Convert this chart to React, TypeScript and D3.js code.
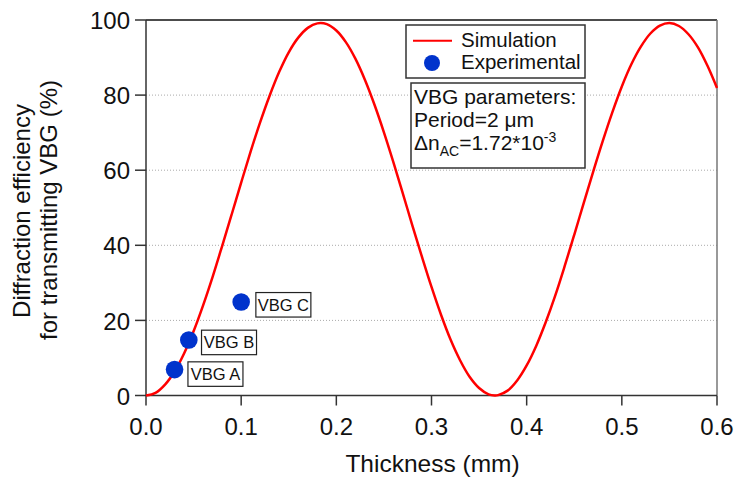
import React from "react";
import * as d3 from "d3";

const thickness = [0, 0.01, 0.02, 0.03, 0.04, 0.05, 0.06, 0.07, 0.08, 0.09, 0.1, 0.11, 0.12, 0.13, 0.14, 0.15, 0.16, 0.17, 0.18, 0.19, 0.2, 0.21, 0.22, 0.23, 0.24, 0.25, 0.26, 0.27, 0.28, 0.29, 0.3, 0.31, 0.32, 0.33, 0.34, 0.35, 0.36, 0.3665, 0.37, 0.38, 0.39, 0.4, 0.41, 0.42, 0.43, 0.44, 0.45, 0.46, 0.47, 0.48, 0.49, 0.5, 0.51, 0.52, 0.53, 0.54, 0.55, 0.56, 0.57, 0.58, 0.59, 0.6];
const simulation = [0, 0.7, 2.9, 6.4, 11.2, 17.1, 24.0, 31.6, 39.8, 48.2, 56.7, 65.0, 72.8, 79.9, 86.2, 91.4, 95.3, 97.9, 99.1, 98.9, 97.2, 94.1, 89.7, 84.1, 77.5, 70.1, 62.1, 53.7, 45.2, 36.9, 28.9, 21.5, 14.9, 9.4, 5.0, 2.0, 0.3, 0.0, 0.1, 1.3, 4.0, 8.0, 13.2, 19.5, 26.6, 34.5, 42.8, 51.3, 59.7, 67.8, 75.4, 82.3, 88.2, 92.9, 96.4, 98.5, 99.2, 98.4, 96.2, 92.7, 87.8, 81.9];

const expNames = ["VBG A", "VBG B", "VBG C"];
const expThickness = [0.03, 0.045, 0.1];
const expEfficiency = [6.9, 14.8, 24.9];

const xTicks = [0, 0.1, 0.2, 0.3, 0.4, 0.5, 0.6];
const yTicks = [0, 20, 40, 60, 80, 100];
const gridTicks = [20, 40, 60, 80];

const FONT = "'Liberation Sans', Arial, sans-serif";

export default function App() {
  const W = 736, H = 477;
  const L = 146, R = 717, T = 20, B = 395.5;
  const x = d3.scaleLinear().domain([0, 0.6]).range([L, R]);
  const y = d3.scaleLinear().domain([0, 100]).range([B, T]);
  const pts = thickness.map((t, i) => [t, simulation[i]] as [number, number]);
  const line = d3.line<[number, number]>().x(d => x(d[0])).y(d => y(d[1])).curve(d3.curveCatmullRom.alpha(0.5));
  const axisColor = "#333";
  const labelDy = [4.5, 2.5, 2.8];
  const labelDx = [13.4, 12.7, 14.7];

  return (
    <svg width={W} height={H} style={{ position: "absolute", left: 0, top: 0, background: "#fff" }} fontFamily={FONT}>
      {gridTicks.map(v => (
        <line key={"g" + v} x1={L} x2={R} y1={y(v)} y2={y(v)} stroke="#aaa" strokeWidth={1} strokeDasharray="1,2" />
      ))}
      <line x1={L} x2={R} y1={T} y2={T} stroke="#111" strokeWidth={1.5} />
      <line x1={R} x2={R} y1={T} y2={B} stroke="#777" strokeWidth={1.5} />
      <line x1={L} x2={R} y1={B} y2={B} stroke={axisColor} strokeWidth={1.5} />
      <line x1={L} x2={L} y1={T} y2={B} stroke={axisColor} strokeWidth={1.5} />
      {yTicks.map(v => (
        <g key={"y" + v}>
          <line x1={L - 11} x2={L} y1={y(v)} y2={y(v)} stroke={axisColor} strokeWidth={1.5} />
          <text x={L - 16} y={y(v)} dy="0.38em" textAnchor="end" fontSize={24} fill="#111">{v}</text>
        </g>
      ))}
      {xTicks.map(v => (
        <g key={"x" + v}>
          <line x1={x(v)} x2={x(v)} y1={B} y2={B + 10} stroke={axisColor} strokeWidth={1.5} />
          <text x={x(v)} y={435} textAnchor="middle" fontSize={24} fill="#111">{v.toFixed(1)}</text>
        </g>
      ))}
      <text x={(L + R) / 2 + 1} y={472} textAnchor="middle" fontSize={24.5} fill="#111">Thickness (mm)</text>
      <text transform="translate(30,211) rotate(-90)" textAnchor="middle" fontSize={24} fill="#111">Diffraction efficiency</text>
      <text transform="translate(57,210) rotate(-90)" textAnchor="middle" fontSize={24} fill="#111">for transmitting VBG (%)</text>

      <path d={line(pts) || ""} fill="none" stroke="#ff0000" strokeWidth={2.5} />

      {expNames.map((n, i) => {
        const cx = x(expThickness[i]);
        const cy = y(expEfficiency[i]);
        const bw = 55, bh = 24.5;
        const bx = cx + labelDx[i];
        const by = cy + labelDy[i] - bh / 2;
        return (
          <g key={n}>
            <rect x={bx} y={by} width={bw} height={bh} fill="#fff" stroke="#222" strokeWidth={1.2} />
            <text x={bx + bw / 2} y={by + bh / 2} dy="0.36em" textAnchor="middle" fontSize={16.5} fill="#111">{n}</text>
            <circle cx={cx} cy={cy} r={8.8} fill="#0033cc" />
          </g>
        );
      })}

      <rect x={406} y={25} width={179} height={53} fill="#fff" stroke="#333" strokeWidth={1.5} />
      <line x1={413} x2={452} y1={40.7} y2={40.7} stroke="#ff0000" strokeWidth={2} />
      <text x={461} y={47} fontSize={20.5} fill="#111">Simulation</text>
      <circle cx={432} cy={63} r={8} fill="#0033cc" />
      <text x={461} y={69} fontSize={20.5} fill="#111">Experimental</text>

      <rect x={411} y={83} width={174} height={85} fill="#fff" stroke="#333" strokeWidth={1.5} />
      <text x={414} y={104} fontSize={21} fill="#111">VBG parameters:</text>
      <text x={414} y={127} fontSize={21} fill="#111">Period=2 μm</text>
      <text x={414} y={150} fontSize={21} fill="#111">
        Δn<tspan fontSize={14} dy={6}>AC</tspan><tspan dy={-6}>=1.72*10</tspan><tspan fontSize={14} dy={-8}>-3</tspan>
      </text>
    </svg>
  );
}
